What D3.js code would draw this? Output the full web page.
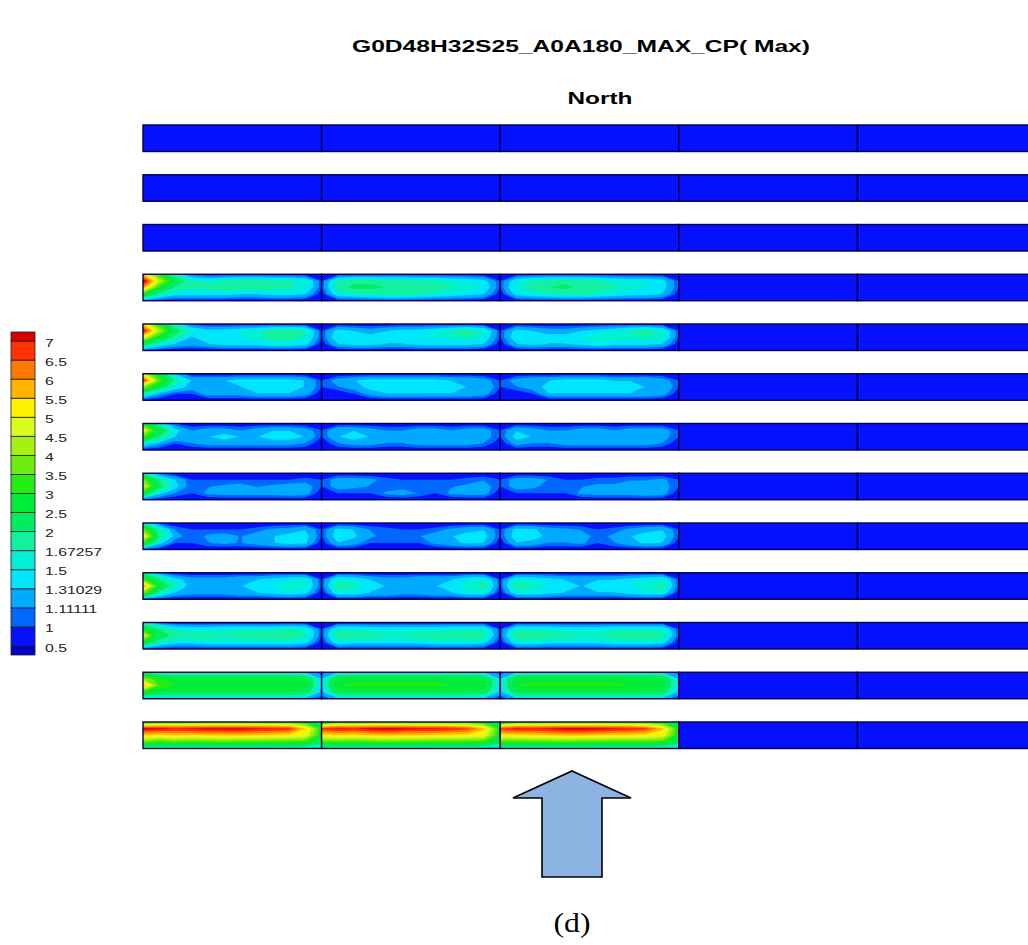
<!DOCTYPE html>
<html>
<head>
<meta charset="utf-8">
<script src="https://cdn.jsdelivr.net/npm/d3@7/dist/d3.min.js"></script>
<style>
  html, body { margin: 0; padding: 0; background: #ffffff; }
  svg { display: block; }
</style>
</head>
<body>
<svg id="chart" width="1028" height="945"></svg>
<script>
// ---------------- DATA ----------------
const titleText = "G0D48H32S25_A0A180_MAX_CP( Max)";
const subtitleText = "North";
const captionText = "(d)";

// contour levels (legend tick labels)
const thresholds = [0.5, 1, 1.11111, 1.31029, 1.5, 1.67257, 2, 2.5, 3, 3.5, 4, 4.5, 5, 5.5, 6, 6.5, 7];
const thresholdLabels = ["0.5", "1", "1.11111", "1.31029", "1.5", "1.67257", "2", "2.5", "3", "3.5", "4", "4.5", "5", "5.5", "6", "6.5", "7"];
// colours of the 18 classes, from below 0.5 up to above 7
const palette = ["#0000c4", "#0612ff", "#0068ff", "#00aaff", "#00e6ff", "#00f0d6", "#12f0a0", "#00ec62", "#00ec3a", "#22ec12",
                 "#6eec10", "#a6f012", "#d8fc1e", "#fff000", "#ffb400", "#ff7800", "#ff3200", "#da0000"];

// strips (top to bottom) and panels (left to right)
const strips = ["S1", "S2", "S3", "S4", "S5", "S6", "S7", "S8", "S9", "S10", "S11", "S12", "S13"];
const panels = ["P1", "P2", "P3", "P4", "P5"];
// value of panels without a field
const uniformValue = 0.8;

// sampled Cp fields: each panel is 5 rows (top edge → bottom edge) x 12 columns (left edge → right edge)
const strip04 = [
  [[5.5,3.0,1.6,1.0,0.9,0.9,0.9,0.9,0.9,0.9,0.9,0.9],
   [7.6,4.6,2.4,1.7,1.6,1.7,1.8,1.8,1.7,1.7,1.6,1.0],
   [6.0,3.0,1.9,1.7,1.8,1.9,1.9,1.8,1.8,1.7,1.6,1.0],
   [3.0,1.8,1.4,1.4,1.4,1.4,1.3,1.3,1.4,1.4,1.3,0.9],
   [1.0,0.9,0.9,0.9,0.9,0.9,0.9,0.9,0.9,0.9,0.9,0.9]],
  [[0.9,0.9,0.9,0.9,0.9,0.9,0.9,0.9,0.9,0.9,0.9,0.9],
   [1.0,1.7,1.9,1.9,1.8,1.8,1.7,1.7,1.6,1.5,1.4,1.0],
   [1.0,1.8,2.1,2.1,2.0,1.9,1.9,1.8,1.7,1.6,1.5,1.0],
   [0.9,1.5,1.6,1.7,1.8,1.8,1.7,1.6,1.5,1.4,1.3,0.9],
   [0.9,0.9,0.9,0.9,0.9,0.9,0.9,0.9,0.9,0.9,0.9,0.9]],
  [[0.9,0.9,0.9,0.9,0.9,0.9,0.9,0.9,0.9,0.9,0.9,0.9],
   [1.0,1.5,1.7,1.8,1.9,1.8,1.7,1.6,1.5,1.5,1.4,1.0],
   [1.0,1.6,1.8,2.0,2.1,1.9,1.8,1.7,1.6,1.5,1.4,1.0],
   [0.9,1.4,1.5,1.6,1.7,1.7,1.6,1.5,1.4,1.4,1.3,0.9],
   [0.9,0.9,0.9,0.9,0.9,0.9,0.9,0.9,0.9,0.9,0.9,0.9]]
];
const strip05 = [
  [[5.5,3.0,1.5,1.0,0.9,0.9,0.9,0.9,0.9,0.9,0.9,0.9],
   [7.3,4.3,2.2,1.6,1.4,1.4,1.5,1.6,1.8,1.9,1.7,1.0],
   [5.0,2.8,1.8,1.3,1.4,1.4,1.5,1.6,1.8,1.8,1.6,1.0],
   [2.4,1.6,1.3,1.2,1.3,1.4,1.4,1.4,1.5,1.5,1.4,0.9],
   [1.0,0.9,0.9,0.9,0.9,0.9,0.9,0.9,0.9,0.9,0.9,0.9]],
  [[0.9,0.9,0.9,0.9,0.9,0.9,0.9,0.9,0.9,0.9,0.9,0.9],
   [1.0,1.4,1.3,1.2,1.3,1.4,1.4,1.5,1.7,1.8,1.6,1.0],
   [1.0,1.5,1.4,1.4,1.4,1.4,1.5,1.5,1.6,1.7,1.5,1.0],
   [0.9,1.3,1.4,1.4,1.3,1.3,1.4,1.4,1.4,1.4,1.3,0.9],
   [0.9,0.9,0.9,0.9,0.9,0.9,0.9,0.9,0.9,0.9,0.9,0.9]],
  [[0.9,0.9,0.9,0.9,0.9,0.9,0.9,0.9,0.9,0.9,0.9,0.9],
   [1.0,1.4,1.3,1.2,1.2,1.3,1.4,1.5,1.7,1.8,1.6,1.0],
   [1.0,1.5,1.5,1.4,1.4,1.5,1.6,1.7,1.6,1.7,1.6,1.0],
   [0.9,1.3,1.4,1.3,1.3,1.4,1.5,1.4,1.4,1.4,1.3,0.9],
   [0.9,0.9,0.9,0.9,0.9,0.9,0.9,0.9,0.9,0.9,0.9,0.9]]
];
const strip06 = [
  [[4.8,2.6,1.3,0.9,0.9,0.9,0.9,0.9,0.9,0.9,0.9,0.9],
   [7.0,3.6,1.8,1.3,1.3,1.3,1.4,1.4,1.4,1.4,1.3,1.0],
   [4.0,2.4,1.5,1.2,1.2,1.3,1.3,1.4,1.4,1.4,1.3,1.0],
   [1.8,1.2,1.0,1.0,1.2,1.2,1.2,1.3,1.3,1.3,1.2,0.9],
   [0.9,0.9,0.9,0.9,0.9,0.9,0.9,0.9,0.9,0.9,0.9,0.9]],
  [[0.9,0.9,0.9,0.9,0.9,0.9,0.9,0.9,0.9,0.9,0.9,0.9],
   [1.0,1.2,1.3,1.4,1.4,1.4,1.4,1.4,1.3,1.3,1.2,1.0],
   [1.0,1.1,1.2,1.4,1.4,1.5,1.4,1.4,1.4,1.3,1.3,1.0],
   [0.9,0.9,1.0,1.2,1.3,1.3,1.3,1.3,1.3,1.3,1.2,0.9],
   [0.9,0.9,0.9,0.9,0.9,0.9,0.9,0.9,0.9,0.9,0.9,0.9]],
  [[0.9,0.9,0.9,0.9,0.9,0.9,0.9,0.9,0.9,0.9,0.9,0.9],
   [1.0,1.2,1.3,1.3,1.4,1.4,1.4,1.3,1.3,1.3,1.2,1.0],
   [1.0,1.1,1.2,1.4,1.4,1.4,1.4,1.4,1.4,1.3,1.3,1.0],
   [0.9,0.9,1.0,1.3,1.3,1.3,1.3,1.3,1.3,1.3,1.2,0.9],
   [0.9,0.9,0.9,0.9,0.9,0.9,0.9,0.9,0.9,0.9,0.9,0.9]]
];
const strip07 = [
  [[3.0,1.6,1.0,0.9,0.9,0.9,0.9,0.9,0.9,0.9,0.9,0.9],
   [5.0,2.6,1.4,1.1,1.2,1.2,1.1,1.2,1.3,1.3,1.2,1.0],
   [3.5,2.0,1.3,1.2,1.3,1.4,1.3,1.3,1.4,1.4,1.3,1.0],
   [1.6,1.2,1.0,1.1,1.2,1.2,1.2,1.2,1.2,1.2,1.1,0.9],
   [0.9,0.9,0.9,0.9,0.9,0.9,0.9,0.9,0.9,0.9,0.9,0.9]],
  [[0.9,0.9,0.9,0.9,0.9,0.9,0.9,0.9,0.9,0.9,0.9,0.9],
   [1.0,1.3,1.3,1.2,1.1,1.1,1.2,1.2,1.1,1.2,1.2,1.0],
   [1.0,1.3,1.4,1.3,1.2,1.2,1.3,1.3,1.3,1.3,1.2,1.0],
   [0.9,1.1,1.2,1.2,1.1,1.1,1.2,1.2,1.2,1.2,1.1,0.9],
   [0.9,0.9,0.9,0.9,0.9,0.9,0.9,0.9,0.9,0.9,0.9,0.9]],
  [[0.9,0.9,0.9,0.9,0.9,0.9,0.9,0.9,0.9,0.9,0.9,0.9],
   [1.0,1.3,1.2,1.1,1.1,1.2,1.2,1.1,1.2,1.2,1.2,1.0],
   [1.0,1.4,1.3,1.2,1.3,1.3,1.3,1.3,1.3,1.3,1.2,1.0],
   [0.9,1.2,1.1,1.1,1.2,1.2,1.2,1.2,1.2,1.2,1.1,0.9],
   [0.9,0.9,0.9,0.9,0.9,0.9,0.9,0.9,0.9,0.9,0.9,0.9]]
];
const strip08 = [
  [[1.8,1.0,0.9,0.9,0.9,0.9,0.9,0.9,0.9,0.9,0.9,0.9],
   [3.8,1.9,1.3,1.0,1.0,1.0,1.0,1.0,1.0,1.0,1.05,1.0],
   [4.8,2.2,1.4,1.0,1.1,1.15,1.2,1.1,1.15,1.2,1.2,1.0],
   [2.8,1.4,1.1,1.0,1.15,1.2,1.2,1.2,1.2,1.25,1.2,0.9],
   [0.9,0.9,0.9,0.9,0.9,0.9,0.9,0.9,0.9,0.9,0.9,0.9]],
  [[0.9,0.9,0.9,0.9,0.9,0.9,0.9,0.9,0.9,0.9,0.9,0.9],
   [1.0,1.2,1.2,1.15,1.05,1.0,1.0,1.0,1.0,1.05,1.1,1.0],
   [1.0,1.2,1.15,1.1,1.0,1.05,1.1,1.0,1.1,1.15,1.2,1.0],
   [0.9,1.0,1.0,1.0,1.15,1.2,1.1,1.0,1.15,1.2,1.2,0.9],
   [0.9,0.9,0.9,0.9,0.9,0.9,0.9,0.9,0.9,0.9,0.9,0.9]],
  [[0.9,0.9,0.9,0.9,0.9,0.9,0.9,0.9,0.9,0.9,0.9,0.9],
   [1.0,1.2,1.2,1.1,1.0,1.0,1.05,1.05,1.1,1.1,1.15,1.0],
   [1.0,1.2,1.15,1.05,1.0,1.1,1.15,1.15,1.2,1.2,1.2,1.0],
   [0.9,1.0,1.0,1.0,1.0,1.15,1.2,1.2,1.2,1.25,1.2,0.9],
   [0.9,0.9,0.9,0.9,0.9,0.9,0.9,0.9,0.9,0.9,0.9,0.9]]
];
const strip09 = [
  [[1.8,1.0,0.9,0.9,0.9,0.9,0.9,0.9,0.9,0.9,0.9,0.9],
   [3.8,1.7,1.1,1.0,1.0,1.0,1.0,1.05,1.15,1.2,1.3,1.0],
   [5.3,2.0,1.2,1.0,1.15,1.2,1.1,1.2,1.3,1.4,1.4,1.0],
   [3.2,1.4,1.0,1.0,1.1,1.15,1.1,1.2,1.3,1.4,1.35,0.9],
   [0.9,0.9,0.9,0.9,0.9,0.9,0.9,0.9,0.9,0.9,0.9,0.9]],
  [[0.9,0.9,0.9,0.9,0.9,0.9,0.9,0.9,0.9,0.9,0.9,0.9],
   [1.0,1.4,1.3,1.1,1.05,1.0,1.0,1.05,1.15,1.25,1.3,1.0],
   [1.0,1.45,1.35,1.15,1.05,1.1,1.1,1.2,1.3,1.4,1.4,1.0],
   [0.9,1.3,1.2,1.0,1.0,1.0,1.0,1.15,1.25,1.35,1.3,0.9],
   [0.9,0.9,0.9,0.9,0.9,0.9,0.9,0.9,0.9,0.9,0.9,0.9]],
  [[0.9,0.9,0.9,0.9,0.9,0.9,0.9,0.9,0.9,0.9,0.9,0.9],
   [1.0,1.4,1.35,1.2,1.15,1.1,1.0,1.05,1.15,1.25,1.3,1.0],
   [1.0,1.45,1.4,1.25,1.2,1.2,1.05,1.15,1.3,1.4,1.4,1.0],
   [0.9,1.3,1.25,1.1,1.1,1.15,1.0,1.1,1.25,1.35,1.3,0.9],
   [0.9,0.9,0.9,0.9,0.9,0.9,0.9,0.9,0.9,0.9,0.9,0.9]]
];
const strip10 = [
  [[2.0,1.1,0.9,0.9,0.9,0.9,0.9,0.9,0.9,0.9,0.9,0.9],
   [3.5,2.0,1.4,1.2,1.2,1.2,1.3,1.3,1.4,1.5,1.5,1.0],
   [6.2,2.8,1.6,1.2,1.3,1.3,1.3,1.4,1.5,1.6,1.6,1.0],
   [3.8,1.8,1.3,1.2,1.2,1.2,1.3,1.3,1.4,1.5,1.4,0.9],
   [1.0,0.9,0.9,0.9,0.9,0.9,0.9,0.9,0.9,0.9,0.9,0.9]],
  [[0.9,0.9,0.9,0.9,0.9,0.9,0.9,0.9,0.9,0.9,0.9,0.9],
   [1.0,1.6,1.5,1.3,1.2,1.2,1.3,1.3,1.3,1.5,1.6,1.0],
   [1.0,1.8,1.7,1.4,1.3,1.3,1.2,1.3,1.4,1.6,1.8,1.0],
   [0.9,1.5,1.5,1.3,1.3,1.2,1.2,1.3,1.3,1.5,1.5,0.9],
   [0.9,0.9,0.9,0.9,0.9,0.9,0.9,0.9,0.9,0.9,0.9,0.9]],
  [[0.9,0.9,0.9,0.9,0.9,0.9,0.9,0.9,0.9,0.9,0.9,0.9],
   [1.0,1.6,1.5,1.4,1.3,1.3,1.3,1.3,1.4,1.5,1.6,1.0],
   [1.0,1.8,1.7,1.5,1.4,1.3,1.4,1.4,1.5,1.6,1.8,1.0],
   [0.9,1.5,1.5,1.4,1.3,1.3,1.3,1.3,1.4,1.5,1.5,0.9],
   [0.9,0.9,0.9,0.9,0.9,0.9,0.9,0.9,0.9,0.9,0.9,0.9]]
];
const strip11 = [
  [[1.6,1.0,0.9,0.9,0.9,0.9,0.9,0.9,0.9,0.9,0.9,0.9],
   [3.0,2.0,1.6,1.5,1.5,1.6,1.6,1.6,1.6,1.7,1.6,1.0],
   [4.8,2.4,1.8,1.8,1.8,1.7,1.8,1.8,1.9,1.9,1.7,1.0],
   [2.8,1.7,1.4,1.4,1.5,1.5,1.5,1.5,1.5,1.5,1.4,0.9],
   [1.0,0.9,0.9,0.9,0.9,0.9,0.9,0.9,0.9,0.9,0.9,0.9]],
  [[0.9,0.9,0.9,0.9,0.9,0.9,0.9,0.9,0.9,0.9,0.9,0.9],
   [1.0,1.6,1.6,1.5,1.5,1.5,1.5,1.5,1.6,1.6,1.6,1.0],
   [1.0,1.9,1.8,1.8,1.7,1.7,1.8,1.8,1.8,1.9,1.8,1.0],
   [0.9,1.5,1.4,1.4,1.4,1.4,1.4,1.5,1.5,1.5,1.4,0.9],
   [0.9,0.9,0.9,0.9,0.9,0.9,0.9,0.9,0.9,0.9,0.9,0.9]],
  [[0.9,0.9,0.9,0.9,0.9,0.9,0.9,0.9,0.9,0.9,0.9,0.9],
   [1.0,1.6,1.6,1.6,1.5,1.5,1.5,1.6,1.6,1.6,1.6,1.0],
   [1.0,1.9,1.9,1.8,1.8,1.7,1.7,1.8,1.9,1.9,1.8,1.0],
   [0.9,1.5,1.5,1.4,1.4,1.4,1.4,1.5,1.5,1.5,1.4,0.9],
   [0.9,0.9,0.9,0.9,0.9,0.9,0.9,0.9,0.9,0.9,0.9,0.9]]
];
const strip12 = [
  [[2.2,1.4,1.3,1.3,1.3,1.3,1.3,1.3,1.3,1.3,1.3,1.0],
   [4.0,3.1,2.9,2.9,2.9,2.9,2.9,2.9,2.9,2.9,2.6,1.3],
   [6.0,3.4,3.0,3.0,3.0,3.0,3.0,3.0,3.0,3.0,2.7,1.3],
   [3.0,2.6,2.5,2.5,2.5,2.5,2.5,2.5,2.5,2.5,2.3,1.2],
   [1.2,1.2,1.2,1.2,1.2,1.2,1.2,1.2,1.2,1.2,1.2,1.0]],
  [[1.0,1.3,1.3,1.3,1.3,1.3,1.3,1.3,1.3,1.3,1.3,1.0],
   [1.3,2.8,2.9,2.9,2.9,2.9,2.9,2.9,2.9,2.8,2.6,1.3],
   [1.3,3.0,3.1,3.1,3.1,3.1,3.1,3.1,3.0,3.0,2.8,1.3],
   [1.2,2.4,2.5,2.5,2.5,2.5,2.5,2.5,2.5,2.4,2.3,1.2],
   [1.0,1.2,1.2,1.2,1.2,1.2,1.2,1.2,1.2,1.2,1.2,1.0]],
  [[1.0,1.3,1.3,1.3,1.3,1.3,1.3,1.3,1.3,1.3,1.3,1.0],
   [1.3,2.8,2.9,2.9,2.9,2.9,2.9,2.9,2.9,2.8,2.6,1.3],
   [1.3,3.0,3.1,3.1,3.1,3.1,3.1,3.1,3.0,3.0,2.8,1.3],
   [1.2,2.4,2.5,2.5,2.5,2.5,2.5,2.5,2.5,2.4,2.3,1.2],
   [1.0,1.2,1.2,1.2,1.2,1.2,1.2,1.2,1.2,1.2,1.2,1.0]]
];
const strip13 = [
  [[3.0,3.5,3.5,3.5,3.5,3.5,3.5,3.5,3.5,3.5,3.0,2.0],
   [7.3,7.2,7.0,7.1,7.2,7.2,7.2,7.1,7.0,6.8,5.5,3.0],
   [5.5,5.3,5.5,5.4,5.5,5.6,5.6,5.5,5.4,5.3,5.0,2.8],
   [3.6,3.3,3.5,3.3,3.4,3.5,3.4,3.4,3.3,3.3,3.2,2.2],
   [1.5,1.5,1.5,1.5,1.5,1.5,1.5,1.5,1.5,1.5,1.5,1.4]],
  [[2.5,3.5,3.5,3.5,3.5,3.5,3.5,3.5,3.5,3.5,3.0,2.0],
   [6.8,7.1,7.0,7.2,7.3,7.2,7.1,7.1,6.9,6.6,5.6,3.0],
   [5.2,5.4,5.3,5.5,5.6,5.5,5.5,5.4,5.3,5.3,5.0,2.8],
   [3.3,3.4,3.3,3.4,3.5,3.4,3.4,3.3,3.3,3.3,3.2,2.2],
   [1.5,1.5,1.5,1.5,1.5,1.5,1.5,1.5,1.5,1.5,1.5,1.4]],
  [[2.5,3.5,3.5,3.5,3.5,3.5,3.5,3.5,3.5,3.5,3.0,2.0],
   [6.8,7.1,7.0,7.1,7.3,7.3,7.2,7.1,7.0,6.7,5.6,3.0],
   [5.2,5.3,5.4,5.5,5.6,5.6,5.5,5.4,5.3,5.3,5.0,2.8],
   [3.3,3.3,3.4,3.4,3.5,3.4,3.4,3.3,3.3,3.3,3.2,2.2],
   [1.5,1.5,1.5,1.5,1.5,1.5,1.5,1.5,1.5,1.5,1.5,1.4]]
];
// which strip carries which field (null = uniform strip)
const stripFields = [null, null, null, strip04, strip05, strip06, strip07, strip08, strip09, strip10, strip11, strip12, strip13];

// ---------------- DRAWING ----------------
const svg = d3.select("#chart");
const defs = svg.append("defs");

const x = d3.scaleBand().domain(panels).range([143, 1036]).paddingInner(0).paddingOuter(0);
const y = d3.scaleBand().domain(strips).range([125, 748.5]).paddingInner(0.4673).paddingOuter(0);
const color = d3.scaleThreshold().domain(thresholds).range(palette);

const rowsN = 5, colsN = 12;
const contourGen = d3.contours().size([colsN, rowsN]).thresholds([-1].concat(thresholds));

const strokeCol = "#00004a";
const gStrips = svg.append("g");

strips.forEach((s, si) => {
  const field = stripFields[si];
  panels.forEach((p, pi) => {
    const x0 = x(p), y0 = y(s), w = x.bandwidth(), h = y.bandwidth();
    const grid = field && pi < field.length ? field[pi] : null;
    const g = gStrips.append("g");
    if (grid) {
      const cid = `clip-${si}-${pi}`;
      defs.append("clipPath").attr("id", cid)
        .append("rect").attr("x", x0).attr("y", y0).attr("width", w).attr("height", h);
      // sample centres (i + 0.5 in contour space) are placed on the panel edges
      const sx = d3.scaleLinear().domain([0.5, colsN - 0.5]).range([x0, x0 + w]);
      const sy = d3.scaleLinear().domain([0.5, rowsN - 0.5]).range([y0, y0 + h]);
      const tr = d3.geoTransform({
        point: function(px, py) { this.stream.point(sx(px), sy(py)); }
      });
      const path = d3.geoPath(tr);
      g.attr("clip-path", `url(#${cid})`)
        .selectAll("path").data(contourGen(grid.flat())).join("path")
        .attr("d", path)
        .attr("fill", (d, i) => palette[i])
        .attr("stroke", "none");
    } else {
      g.append("rect").attr("x", x0).attr("y", y0).attr("width", w).attr("height", h)
        .attr("fill", color(uniformValue));
    }
    gStrips.append("rect").attr("x", x0).attr("y", y0).attr("width", w).attr("height", h)
      .attr("fill", "none").attr("stroke", strokeCol).attr("stroke-width", 1.4);
  });
});

// ---------------- LEGEND ----------------
const legX = 11, legW = 24, capH = 9;
const yB = d3.scaleLinear().domain([0, thresholds.length - 1]).range([646, 341]);
const leg = svg.append("g");
palette.forEach((c, k) => {
  let top, bot;
  if (k === 0) { top = yB(0); bot = yB(0) + capH; }
  else if (k === palette.length - 1) { top = yB(thresholds.length - 1) - capH; bot = yB(thresholds.length - 1); }
  else { top = yB(k); bot = yB(k - 1); }
  leg.append("rect").attr("x", legX).attr("y", top).attr("width", legW).attr("height", bot - top)
    .attr("fill", c).attr("stroke", "#202020").attr("stroke-width", 0.8);
});
thresholdLabels.forEach((t, i) => {
  leg.append("g").attr("transform", `translate(45,${yB(i) + 5.5}) scale(1.5,1)`)
    .append("text").attr("x", 0).attr("y", 0)
    .attr("font-family", "Liberation Sans, Arial, sans-serif").attr("font-size", 10.5)
    .attr("fill", "#222").text(t);
});

// ---------------- TEXTS ----------------
svg.append("text").attr("x", 581).attr("y", 52).attr("text-anchor", "middle")
  .attr("font-family", "Liberation Sans, Arial, sans-serif").attr("font-weight", "bold").attr("font-size", 17)
  .attr("textLength", 458).attr("lengthAdjust", "spacingAndGlyphs").attr("fill", "#000").text(titleText);
svg.append("text").attr("x", 600).attr("y", 104).attr("text-anchor", "middle")
  .attr("font-family", "Liberation Sans, Arial, sans-serif").attr("font-weight", "bold").attr("font-size", 17)
  .attr("textLength", 65).attr("lengthAdjust", "spacingAndGlyphs").attr("fill", "#000").text(subtitleText);
svg.append("text").attr("x", 572).attr("y", 932).attr("text-anchor", "middle")
  .attr("font-family", "Liberation Serif, Times New Roman, serif").attr("font-size", 28)
  .attr("textLength", 37).attr("lengthAdjust", "spacingAndGlyphs").attr("fill", "#000").text(captionText);

// ---------------- ARROW (wind direction) ----------------
const ax = 572, tipY = 771, headY = 798, headHalf = 59, shaftHalf = 30, baseY = 877;
const arrowPts = [[ax, tipY], [ax + headHalf, headY], [ax + shaftHalf, headY], [ax + shaftHalf, baseY],
                  [ax - shaftHalf, baseY], [ax - shaftHalf, headY], [ax - headHalf, headY]];
svg.append("path").attr("d", d3.line()(arrowPts) + "Z")
  .attr("fill", "#8db3e2").attr("stroke", "#000").attr("stroke-width", 1.6).attr("stroke-linejoin", "miter");
</script>
</body>
</html>
